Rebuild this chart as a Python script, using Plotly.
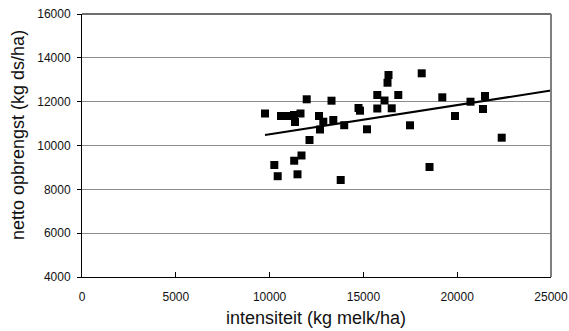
import numpy as np
import plotly.graph_objects as go

intensiteit = [9755, 10608, 10928, 11301, 11647, 11354, 11978, 13300, 12633, 12863,
               12687, 13396, 13977, 12127, 11700, 11311, 10251, 10432, 11487, 13790,
               14739, 14819, 15192, 15741, 15741, 16125, 16509, 16860, 16338, 16285,
               18108, 19206, 17484, 19883, 20709, 21482, 21375, 22372, 18524]
opbrengst = [11460, 11346, 11346, 11392, 11460, 11072, 12108, 12044, 11346, 11086,
             10730, 11163, 10926, 10251, 9544, 9306, 9110, 8599, 8686, 8426,
             11711, 11588, 10739, 12304, 11688, 12053, 11697, 12304, 13217, 12865,
             13294, 12199, 10922, 11346, 11998, 12259, 11665, 10356, 9019]

x_ticks = [0, 5000, 10000, 15000, 20000, 25000]
y_ticks = [4000, 6000, 8000, 10000, 12000, 14000, 16000]

slope, intercept = np.polyfit(intensiteit, opbrengst, 1)
trend_x = [min(intensiteit), 25000]
trend_y = [slope * v + intercept for v in trend_x]

W, H = 569, 331
ML, MR, MT, MB = 82, 18, 14, 54
pw, ph = W - ML - MR, H - MT - MB

fig = go.Figure()
fig.add_trace(go.Scatter(x=trend_x, y=trend_y, mode="lines",
                         line=dict(color="black", width=2), hoverinfo="skip"))
fig.add_trace(go.Scatter(x=intensiteit, y=opbrengst, mode="markers",
                         marker=dict(symbol="square", size=8, color="black",
                                     line=dict(width=0))))

font = "Liberation Sans, Arial, sans-serif"
fig.update_layout(
    width=W, height=H,
    margin=dict(l=ML, r=MR, t=MT, b=MB),
    paper_bgcolor="white", plot_bgcolor="white",
    showlegend=False,
    font=dict(family=font, color="#111", size=12),
    xaxis=dict(range=[0, 25000], tickvals=x_ticks, ticktext=[str(v) for v in x_ticks],
               ticks="inside", ticklen=5, tickcolor="black", showgrid=False,
               showline=True, linecolor="black", linewidth=1, zeroline=False,
               automargin=False, ticklabelstandoff=9,
               tickfont=dict(size=12, family=font, color="#111")),
    yaxis=dict(range=[4000, 16000], tickvals=y_ticks, ticktext=[str(v) for v in y_ticks],
               ticks="outside", ticklen=4, tickcolor="black", showgrid=True,
               gridcolor="#8c8c8c", gridwidth=1,
               showline=True, linecolor="black", linewidth=1, zeroline=False,
               automargin=False, ticklabelstandoff=4,
               tickfont=dict(size=12, family=font, color="#111")),
    annotations=[
        dict(text="intensiteit (kg melk/ha)", xref="paper", yref="paper",
             x=0.5 + (316 - (ML + pw / 2)) / pw, y=-(318 - (MT + ph)) / ph,
             xanchor="center", yanchor="middle", showarrow=False,
             font=dict(size=18, family=font, color="#111")),
        dict(text="netto opbrengst (kg ds/ha)", xref="paper", yref="paper",
             x=(18 - ML) / pw, y=0.5 + ((MT + ph / 2) - 135) / ph,
             xanchor="center", yanchor="middle", textangle=-90, showarrow=False,
             font=dict(size=18, family=font, color="#111")),
    ],
)
fig.add_shape(type="line", xref="paper", yref="paper", x0=0, x1=1, y0=1, y1=1,
              line=dict(color="#6e6e6e", width=2))
fig.add_shape(type="line", xref="paper", yref="paper", x0=1, x1=1, y0=0, y1=1,
              line=dict(color="#7f7f7f", width=2))

fig.write_html("out.html", config={"displayModeBar": False},
               post_script="document.body.style.margin='0';document.body.style.padding='0';")
